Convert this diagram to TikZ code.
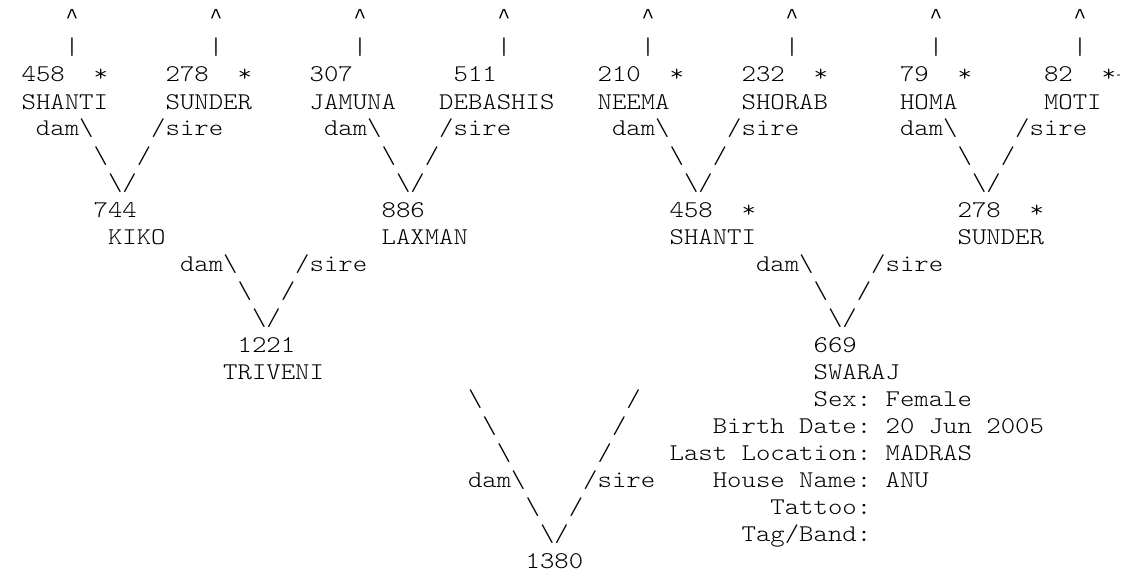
\documentclass[tikz,border=0pt]{standalone}
\usepackage{fontspec}
\newfontfamily\asciifont{Latin Modern Mono Light}[FakeStretch=1.142857]
\newfontfamily\caretfont{Liberation Mono}
\newcommand\bsl{\textbackslash}
\tikzset{txt/.style={anchor=base west, inner sep=0pt, outer sep=0pt,
  font=\asciifont\fontsize{18pt}{20pt}\selectfont, text=black},
  caret/.style={txt, font=\caretfont\fontsize{16pt}{18pt}\selectfont}}
\newcommand\tx[4]{\node[txt] (#1) at ({7.2+14.4*(#2)},{28+27*(#3)}) {#4};}
\begin{document}
\begin{tikzpicture}[x=0.75pt,y=-0.75pt]
\useasboundingbox (0,0) rectangle (1121,585);
% row 0 and 1: arrows up
\foreach \i in {0,...,7}{
  \node[caret] (hat\i) at ({7.2+14.4*(4+10*\i)+0.8},{24}) {\textasciicircum};
  \node[txt] (bar\i) at ({7.2+14.4*(4+10*\i)},{55}) {|};
}
% row 2: numbers
\tx{a458}{1}{2}{458} \tx{a458s}{6}{2}{*}
\tx{a278}{11}{2}{278} \tx{a278s}{16}{2}{*}
\tx{a307}{21}{2}{307}
\tx{a511}{31}{2}{511}
\tx{a210}{41}{2}{210} \tx{a210s}{46}{2}{*}
\tx{a232}{51}{2}{232} \tx{a232s}{56}{2}{*}
\tx{a79}{62}{2}{79} \tx{a79s}{66}{2}{*}
\tx{a82}{72}{2}{82} \tx{a82s}{76}{2}{*}
\fill[black!45] (1117,74) rectangle (1120,76.5);
% row 3: names
\tx{nShanti}{1}{3}{SHANTI}
\tx{nSunder}{11}{3}{SUNDER}
\tx{nJamuna}{21}{3}{JAMUNA}
\tx{nDebashis}{30}{3}{DEBASHIS}
\tx{nNeema}{41}{3}{NEEMA}
\tx{nShorab}{51}{3}{SHORAB}
\tx{nHoma}{62}{3}{HOMA}
\tx{nMoti}{72}{3}{MOTI}
% rows 4-6: first level joins
\foreach \k in {0,...,3}{
  \node[txt] (dA\k) at ({7.2+14.4*(2+20*\k)},{28+27*4}) {dam\bsl};
  \node[txt] (sA\k) at ({7.2+14.4*(10+20*\k)},{28+27*4}) {/sire};
  \node[txt] (lA\k) at ({7.2+14.4*(6+20*\k)},{28+27*5}) {\bsl};
  \node[txt] (rA\k) at ({7.2+14.4*(9+20*\k)},{28+27*5}) {/};
  \node[txt] (vA\k) at ({7.2+14.4*(7+20*\k)},{28+27*6}) {\bsl/};
}
% row 7-8: second level
\tx{b744}{6}{7}{744}
\tx{b886}{26}{7}{886}
\tx{b458}{46}{7}{458} \tx{b458s}{51}{7}{*}
\tx{b278}{66}{7}{278} \tx{b278s}{71}{7}{*}
\tx{mKiko}{7}{8}{KIKO}
\tx{mLaxman}{26}{8}{LAXMAN}
\tx{mShanti}{46}{8}{SHANTI}
\tx{mSunder}{66}{8}{SUNDER}
% rows 9-11: second level joins
\foreach \k in {0,1}{
  \node[txt] (dB\k) at ({7.2+14.4*(12+40*\k)},{28+27*9}) {dam\bsl};
  \node[txt] (sB\k) at ({7.2+14.4*(20+40*\k)},{28+27*9}) {/sire};
  \node[txt] (lB\k) at ({7.2+14.4*(16+40*\k)},{28+27*10}) {\bsl};
  \node[txt] (rB\k) at ({7.2+14.4*(19+40*\k)},{28+27*10}) {/};
  \node[txt] (vB\k) at ({7.2+14.4*(17+40*\k)},{28+27*11}) {\bsl/};
}
% rows 12-13: parents
\tx{c1221}{16}{12}{1221}
\tx{c669}{56}{12}{669}
\tx{pTriveni}{15}{13}{TRIVENI}
\tx{pSwaraj}{56}{13}{SWARAJ}
% rows 14-19: final join
\tx{l14}{32}{14}{\bsl} \tx{r14}{43}{14}{/}
\tx{l15}{33}{15}{\bsl} \tx{r15}{42}{15}{/}
\tx{l16}{34}{16}{\bsl} \tx{r16}{41}{16}{/}
\tx{dC}{32}{17}{dam\bsl} \tx{sC}{40}{17}{/sire}
\tx{l18}{36}{18}{\bsl} \tx{r18}{39}{18}{/}
\tx{vC}{37}{19}{\bsl/}
\tx{root}{36}{20}{1380}
% info panel
\tx{iSex}{56}{14}{Sex:} \tx{iSexV}{61}{14}{Female}
\tx{iBirth}{49}{15}{Birth} \tx{iDate}{55}{15}{Date:} \tx{iD1}{61}{15}{20} \tx{iD2}{64}{15}{Jun} \tx{iD3}{68}{15}{2005}
\tx{iLast}{46}{16}{Last} \tx{iLoc}{51}{16}{Location:} \tx{iLocV}{61}{16}{MADRAS}
\tx{iHouse}{49}{17}{House} \tx{iName}{55}{17}{Name:} \tx{iNameV}{61}{17}{ANU}
\tx{iTattoo}{53}{18}{Tattoo:}
\tx{iTag}{51}{19}{Tag/Band:}
\end{tikzpicture}
\end{document}
